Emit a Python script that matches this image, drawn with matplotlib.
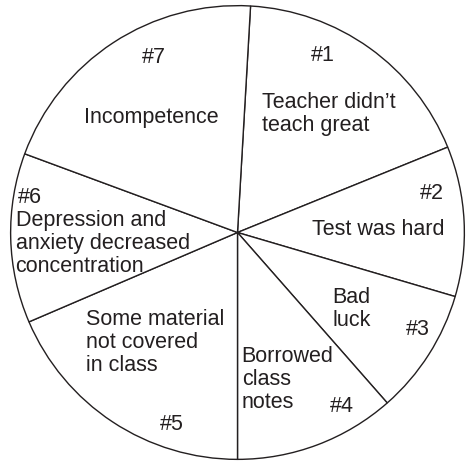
import matplotlib

matplotlib.use("Agg")

import matplotlib.pyplot as plt  # noqa: E402

# slice sizes (degrees of arc, clockwise from #1)
ranks = ["#1", "#2", "#3", "#4", "#5", "#6", "#7"]
reasons = [
    ["Teacher didn\u2019t", "teach great"],
    ["Test was hard"],
    ["Bad", "luck"],
    ["Borrowed", "class", "notes"],
    ["Some material", "not covered", "in class"],
    ["Depression and", "anxiety decreased", "concentration"],
    ["Incompetence"],
]
shares = [64.6, 38.5, 32.3, 41.3, 66.8, 43.5, 73.0]

W, H = 471, 464
CX, CY, R = 237.5, 233.5, 228.0
INK = "#231f20"
LINE_STEP = 23.3  # px between text lines

# label anchors in pixel coords of the reference image
rank_pos = [(323, 55), (433, 193), (418.5, 330), (342, 407), (171, 425), (28.5, 197), (153.7, 57)]
# (x of left edge / centre, y of first line, ha)
reason_pos = [
    (262.3, 102.0, "left"),
    (312.3, 229.5, "left"),
    (332.7, 298.0, "left"),
    (241.7, 357.0, "left"),
    (85.0, 320.0, "left"),
    (14.5, 220.0, "left"),
    (150.8, 117.0, "center"),
]


def to_data(px, py):
    return (px - CX) / R, (CY - py) / R


fig = plt.figure(figsize=(W / 100, H / 100), dpi=100)
ax = fig.add_axes([(CX - R) / W, (H - CY - R) / H, 2 * R / W, 2 * R / H])
ax.pie(
    shares,
    startangle=86.7,
    counterclock=False,
    colors=["white"] * len(shares),
    wedgeprops=dict(edgecolor=INK, linewidth=1.0),
    radius=1.0,
)
ax.set_xlim(-1.005, 1.005)
ax.set_ylim(-1.005, 1.005)
ax.axis("off")

font = dict(family=["Liberation Sans", "DejaVu Sans"], size=15.5, color=INK)

for rank, (px, py) in zip(ranks, rank_pos):
    x, y = to_data(px, py)
    ax.text(x, y, rank, ha="center", va="center", **font)

for lines, (px, py, ha) in zip(reasons, reason_pos):
    for k, line in enumerate(lines):
        x, y = to_data(px, py + k * LINE_STEP)
        ax.text(x, y, line, ha=ha, va="center", **font)

fig.savefig("out.png", dpi=100, facecolor="white")
